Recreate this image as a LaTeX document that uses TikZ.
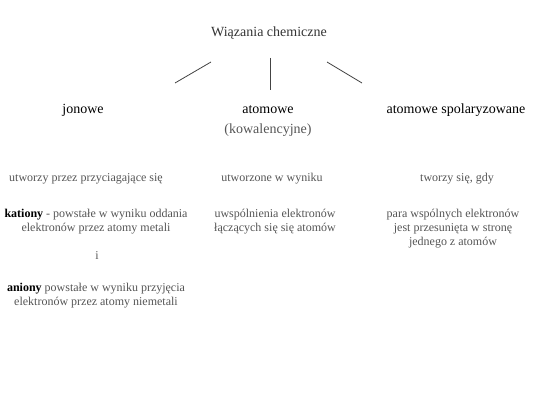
\documentclass[tikz,border=0pt]{standalone}
\usepackage{fontspec}
\setmainfont{Liberation Serif}
\definecolor{txtgray}{HTML}{555555}
\definecolor{titlegray}{HTML}{333333}
\definecolor{linegray}{HTML}{444444}
\begin{document}
\begin{tikzpicture}[x=1pt,y=-1pt,
  title/.style={font=\fontsize{14}{16}\selectfont, text=titlegray, inner sep=0pt},
  head/.style={font=\fontsize{14}{16}\selectfont, text=black, inner sep=0pt},
  sub/.style={font=\fontsize{14}{16}\selectfont, text=txtgray, inner sep=0pt},
  body/.style={font=\fontsize{12}{14}\selectfont, text=txtgray, align=center, inner sep=0pt},
  conn/.style={draw=linegray, line width=0.8pt}]
\useasboundingbox (0,0) rectangle (550,420);
\node[title] (t) at (269,33) {Wiązania chemiczne};
\node[head] (j) at (83,110) {jonowe};
\node[head] (a) at (268,110) {atomowe};
\node[sub] (k) at (268,130) {(kowalencyjne)};
\node[head] (s) at (456,110) {atomowe spolaryzowane};
\coordinate (l1) at (211,62); \coordinate (l2) at (175,83);
\coordinate (m1) at (270,58); \coordinate (m2) at (270,90);
\coordinate (r1) at (327,62); \coordinate (r2) at (362,83);
\draw[conn] (l1) -- (l2);
\draw[conn] (m1) -- (m2);
\draw[conn] (r1) -- (r2);
\node[body] (j1) at (86,179) {utworzy przez przyciagające się};
\node[body] (j2) at (96,222) {\textcolor{black}{\textbf{kationy}} - powstałe w wyniku oddania\\elektronów przez atomy metali};
\node[body] (j3) at (97,256) {i};
\node[body] (j4) at (96,296) {\textcolor{black}{\textbf{aniony}} powstałe w wyniku przyjęcia\\elektronów przez atomy niemetali};
\node[body] (a1) at (272,179) {utworzone w wyniku};
\node[body] (a2) at (275,222) {uwspólnienia elektronów\\łączących się się atomów};
\node[body] (s1) at (457,179) {tworzy się, gdy};
\node[body] (s2) at (453,229) {para wspólnych elektronów\\jest przesunięta w stronę\\jednego z atomów};
\end{tikzpicture}
\end{document}
